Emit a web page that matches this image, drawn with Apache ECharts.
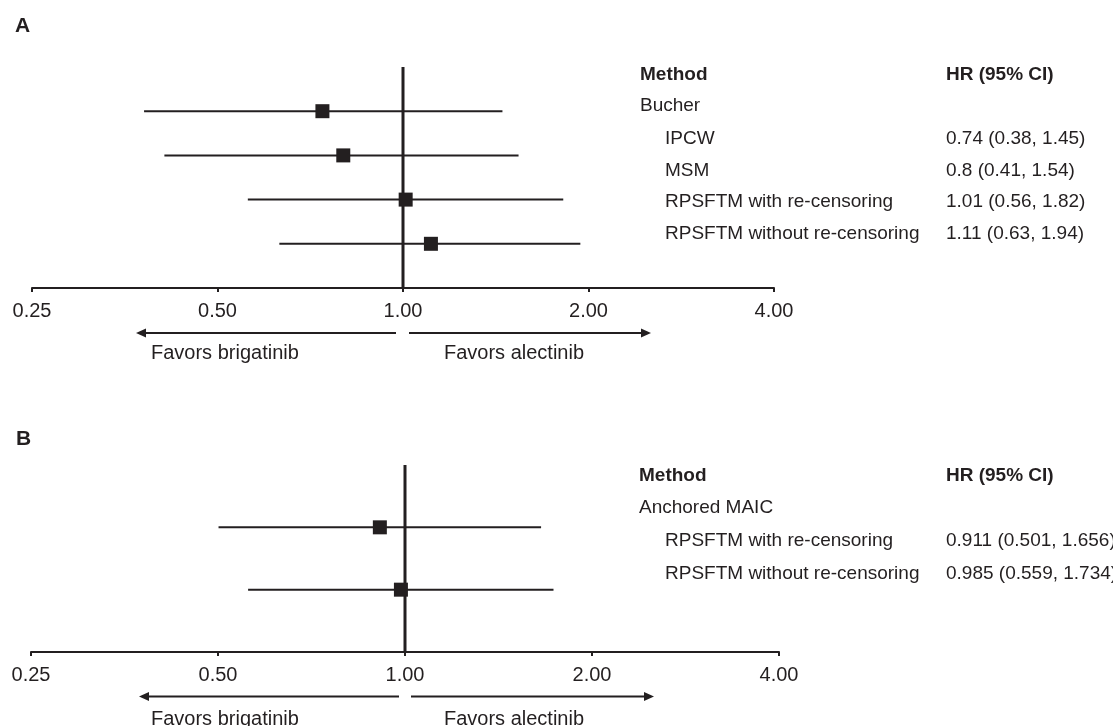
<!DOCTYPE html>
<html><head><meta charset="utf-8">
<script src="https://cdn.jsdelivr.net/npm/echarts@6/dist/echarts.min.js"></script>
<style>html,body{margin:0;padding:0;background:#fff}#c{width:1113px;height:726px}</style>
</head><body><div id="c"></div>
<script>
// ---- data ----
const groupA = 'Bucher';
const methodsA = ['IPCW', 'MSM', 'RPSFTM with re-censoring', 'RPSFTM without re-censoring'];
const hrA = [0.74, 0.8, 1.01, 1.11];
const lowA = [0.38, 0.41, 0.56, 0.63];
const upA = [1.45, 1.54, 1.82, 1.94];
const hrTextA = ['0.74 (0.38, 1.45)', '0.8 (0.41, 1.54)', '1.01 (0.56, 1.82)', '1.11 (0.63, 1.94)'];

const groupB = 'Anchored MAIC';
const methodsB = ['RPSFTM with re-censoring', 'RPSFTM without re-censoring'];
const hrB = [0.911, 0.985];
const lowB = [0.501, 0.559];
const upB = [1.656, 1.734];
const hrTextB = ['0.911 (0.501, 1.656)', '0.985 (0.559, 1.734)'];

const tickLabels = ['0.25', '0.50', '1.00', '2.00', '4.00'];
const refValue = 1;
const favorLeft = 'Favors brigatinib';
const favorRight = 'Favors alectinib';

// ---- chart ----
const INK = '#231f20';
const FONT = '"Liberation Sans", Arial, Helvetica, sans-serif';
const FS = 19;
const FS_AX = 20;
const chart = echarts.init(document.getElementById('c'), null, {renderer: 'canvas'});

function xAxisDef(gi) {
  return {
    gridIndex: gi, type: 'log', logBase: 2, min: 0.25, max: 4, interval: 1,
    axisLine: {lineStyle: {color: INK, width: 2}},
    axisTick: {show: true, inside: false, length: 4, lineStyle: {color: INK, width: 2}},
    axisLabel: {color: INK, fontSize: FS_AX, fontFamily: FONT, margin: 13,
      formatter: function (v) {
        const idx = Math.round(Math.log2(v)) + 2;
        return tickLabels[idx] !== undefined ? tickLabels[idx] : v.toFixed(2);
      }},
    splitLine: {show: false}
  };
}
function yAxisDef(gi, max) {
  return {gridIndex: gi, type: 'value', min: 0, max: max, show: false, splitLine: {show: false}};
}
function ciSeries(gi, low, up, n) {
  return {
    type: 'custom', xAxisIndex: gi, yAxisIndex: gi, z: 2,
    data: low.map((l, i) => [l, up[i], n - i]),
    encode: {x: [0, 1], y: 2},
    renderItem: function (params, api) {
      const a = api.coord([api.value(0), api.value(2)]);
      const b = api.coord([api.value(1), api.value(2)]);
      return {type: 'line', shape: {x1: a[0], y1: a[1], x2: b[0], y2: b[1]},
        style: {stroke: INK, lineWidth: 2}};
    }
  };
}
function refSeries(gi, max) {
  return {type: 'line', xAxisIndex: gi, yAxisIndex: gi, z: 3, symbol: 'none', silent: true,
    data: [[refValue, 0], [refValue, max]], lineStyle: {color: INK, width: 3}};
}
function ptSeries(gi, hr, n) {
  return {type: 'scatter', xAxisIndex: gi, yAxisIndex: gi, z: 4, symbol: 'rect', symbolSize: 14,
    itemStyle: {color: INK, opacity: 1}, data: hr.map((h, i) => [h, n - i])};
}

function txt(x, y, s, bold, size) {
  return {type: 'text', x: x, y: y, style: {text: s, fill: INK, fontSize: size || FS,
    fontFamily: FONT, fontWeight: bold ? 'bold' : 'normal', textVerticalAlign: 'middle', textAlign: 'left'}};
}
function arrow(x1, x2, y, dir) {
  const els = [];
  const hx = dir < 0 ? x1 : x2;
  const lx1 = dir < 0 ? x1 + 6 : x1;
  const lx2 = dir < 0 ? x2 : x2 - 6;
  els.push({type: 'line', shape: {x1: lx1, y1: y, x2: lx2, y2: y}, style: {stroke: INK, lineWidth: 2}});
  els.push({type: 'polygon', shape: {points: dir < 0 ? [[hx, y], [hx + 10, y - 4.5], [hx + 10, y + 4.5]] : [[hx, y], [hx - 10, y - 4.5], [hx - 10, y + 4.5]]},
    style: {fill: INK}});
  return els;
}

const graphics = [];
graphics.push(txt(15, 26, 'A', true, 21));
graphics.push(txt(16, 439, 'B', true, 21));

// table A
const tA = [75, 106, 139, 171, 202, 234];
graphics.push(txt(640, tA[0], 'Method', true));
graphics.push(txt(946, tA[0], 'HR (95% CI)', true));
graphics.push(txt(640, tA[1], groupA, false));
methodsA.forEach((m, i) => {
  graphics.push(txt(665, tA[i + 2], m, false));
  graphics.push(txt(946, tA[i + 2], hrTextA[i], false));
});
// table B
const tB = [476, 508, 541, 574];
graphics.push(txt(639, tB[0], 'Method', true));
graphics.push(txt(946, tB[0], 'HR (95% CI)', true));
graphics.push(txt(639, tB[1], groupB, false));
methodsB.forEach((m, i) => {
  graphics.push(txt(665, tB[i + 2], m, false));
  graphics.push(txt(946, tB[i + 2], hrTextB[i], false));
});

// arrows & favors labels
arrow(136, 396, 333, -1).forEach(e => graphics.push(e));
arrow(409, 651, 333, 1).forEach(e => graphics.push(e));
graphics.push(txt(151, 353, favorLeft, false, FS_AX));
graphics.push(txt(444, 353, favorRight, false, FS_AX));
arrow(139, 399, 696.5, -1).forEach(e => graphics.push(e));
arrow(411, 654, 696.5, 1).forEach(e => graphics.push(e));
graphics.push(txt(151, 719, favorLeft, false, FS_AX));
graphics.push(txt(444, 719, favorRight, false, FS_AX));

chart.setOption({
  animation: false,
  backgroundColor: '#ffffff',
  grid: [
    {left: 32, width: 742, top: 67, height: 221, containLabel: false},
    {left: 31, width: 748, top: 465, height: 187, containLabel: false}
  ],
  xAxis: [xAxisDef(0), xAxisDef(1)],
  yAxis: [yAxisDef(0, 5), yAxisDef(1, 3)],
  series: [
    ciSeries(0, lowA, upA, 4), refSeries(0, 5), ptSeries(0, hrA, 4),
    ciSeries(1, lowB, upB, 2), refSeries(1, 3), ptSeries(1, hrB, 2)
  ],
  graphic: graphics
});
</script></body></html>
